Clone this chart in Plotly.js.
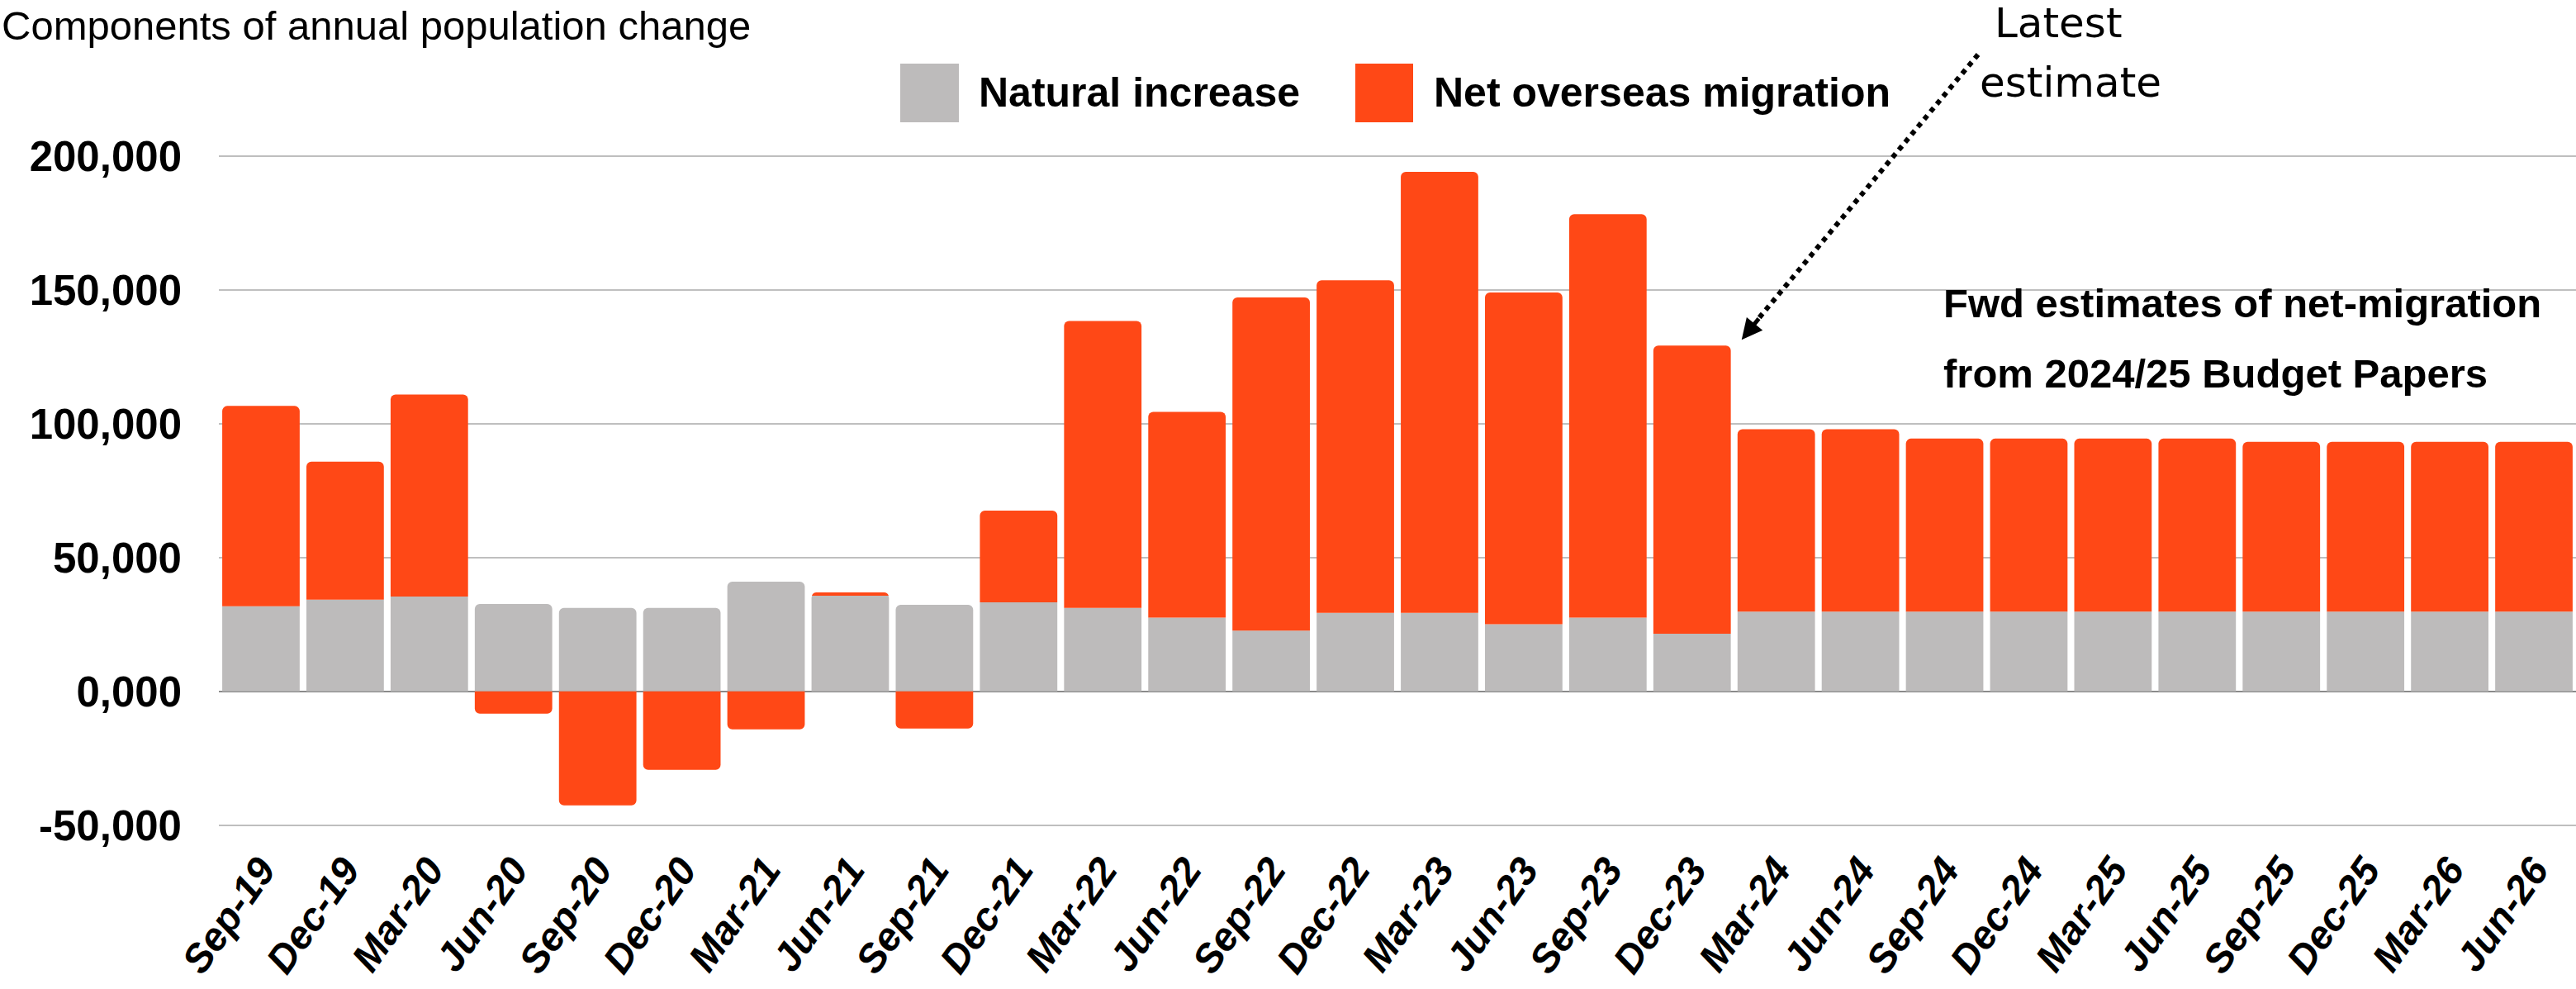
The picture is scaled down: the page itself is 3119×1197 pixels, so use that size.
<!DOCTYPE html>
<html><head><meta charset="utf-8">
<script src="https://cdn.plot.ly/plotly-3.0.1.min.js"></script>
<style>html,body{margin:0;padding:0;background:#fff;overflow:hidden}#chart{width:3119px;height:1197px}</style>
</head><body><div id="chart"></div>
<script>
const categories = ['Sep-19','Dec-19','Mar-20','Jun-20','Sep-20','Dec-20','Mar-21','Jun-21','Sep-21','Dec-21','Mar-22','Jun-22','Sep-22','Dec-22','Mar-23','Jun-23','Sep-23','Dec-23','Mar-24','Jun-24','Sep-24','Dec-24','Mar-25','Jun-25','Sep-25','Dec-25','Mar-26','Jun-26'];
const naturalIncrease = [31800,34300,35500,32700,31200,31200,41000,35800,32400,33300,31200,27600,22700,29400,29400,25100,27600,21600,29800,29800,29800,29800,29800,29800,29800,29800,29800,29800];
const netOverseasMigration = [74900,51600,75500,-8300,-42600,-29300,-14200,1200,-13900,34300,107300,76900,124600,124300,164800,124000,150800,107700,68200,68200,64700,64700,64700,64700,63500,63500,63500,63500];
const yTickVals = [-50000,0,50000,100000,150000,200000];
const yTickText = ['-50,000','0,000','50,000','100,000','150,000','200,000'];
const seriesNames = ['Natural increase','Net overseas migration'];
const latestIdx = 17;

const GRAY = '#BDBBBB', ORANGE = '#FF4816';
const SANS = '"Liberation Sans", Arial, sans-serif';
const W = 3119, H = 1197, L = 265, R = 0, T = 188, B = 197;
const px = x => (x - L) / (W - L - R);
const py = y => (H - B - y) / (H - T - B);

const traces = [
  {type:'bar', name:seriesNames[0], x:categories, y:naturalIncrease, marker:{color:GRAY}, showlegend:false, hoverinfo:'x+y+name'},
  {type:'bar', name:seriesNames[1], x:categories, y:netOverseasMigration, marker:{color:ORANGE}, showlegend:false, hoverinfo:'x+y+name'}
];

const latestTotal = naturalIncrease[latestIdx] + netOverseasMigration[latestIdx];

const bold = s => ({family:SANS, size:s, color:'#000', weight:700});

const layout = {
  width:W, height:H,
  margin:{l:L, r:R, t:T, b:B, pad:0},
  paper_bgcolor:'#fff', plot_bgcolor:'#fff',
  barmode:'relative', bargap:0.08, barcornerradius:6,
  showlegend:false,
  xaxis:{type:'category', tickangle:-55, ticks:'', ticklabelstandoff:14,
    tickfont:{family:SANS, size:48, color:'#000', weight:700, style:'italic'},
    showgrid:false, showline:false, zeroline:false, fixedrange:true},
  yaxis:{range:[-50400,200400], tickvals:yTickVals, ticktext:yTickText, ticks:'', ticklabelstandoff:44,
    tickfont:bold(51), showgrid:true, gridcolor:'#BFBFBF', gridwidth:2,
    zeroline:true, zerolinecolor:'#8A8A8A', zerolinewidth:2, showline:false, fixedrange:true},
  shapes:[
    {type:'rect', xref:'paper', yref:'paper', x0:px(1090), x1:px(1161), y0:py(148), y1:py(77), fillcolor:GRAY, line:{width:0}},
    {type:'rect', xref:'paper', yref:'paper', x0:px(1641), x1:px(1711), y0:py(148), y1:py(77), fillcolor:ORANGE, line:{width:0}},
    {type:'line', xref:'paper', yref:'paper', x0:px(2395), y0:py(66), x1:px(2128), y1:py(387),
      line:{color:'#000', width:6, dash:'dot'}}
  ],
  annotations:[
    {xref:'paper', yref:'paper', x:px(0), y:py(2), xanchor:'left', yanchor:'top', showarrow:false,
      text:'Components of annual population change', font:{family:SANS, size:49, color:'#000'}},
    {xref:'paper', yref:'paper', x:px(1183), y:py(112), xanchor:'left', yanchor:'middle', showarrow:false,
      text:seriesNames[0], font:bold(50)},
    {xref:'paper', yref:'paper', x:px(1734), y:py(112), xanchor:'left', yanchor:'middle', showarrow:false,
      text:seriesNames[1], font:bold(50)},
    {xref:'paper', yref:'paper', x:px(2351), y:py(367), xanchor:'left', yanchor:'middle', showarrow:false,
      text:'Fwd estimates of net-migration', font:bold(49)},
    {xref:'paper', yref:'paper', x:px(2351), y:py(452), xanchor:'left', yanchor:'middle', showarrow:false,
      text:'from 2024/25 Budget Papers', font:bold(49)},
    {xref:'paper', yref:'paper', x:px(2492), y:py(28), xanchor:'center', yanchor:'middle', showarrow:false,
      text:'Latest', font:{family:'"DejaVu Sans", sans-serif', size:50, color:'#000'}},
    {xref:'paper', yref:'paper', x:px(2507), y:py(100), xanchor:'center', yanchor:'middle', showarrow:false,
      text:'estimate', font:{family:'"DejaVu Sans", sans-serif', size:50, color:'#000'}},
    {xref:'x', yref:'y', x:categories[latestIdx], y:latestTotal, xshift:60, yshift:7, text:'', showarrow:true,
      arrowhead:2, arrowsize:1, arrowwidth:5, arrowcolor:'#000', ax:22, ay:-27, standoff:0}
  ]
};

Plotly.newPlot('chart', traces, layout, {staticPlot:true, displayModeBar:false});
</script></body></html>
